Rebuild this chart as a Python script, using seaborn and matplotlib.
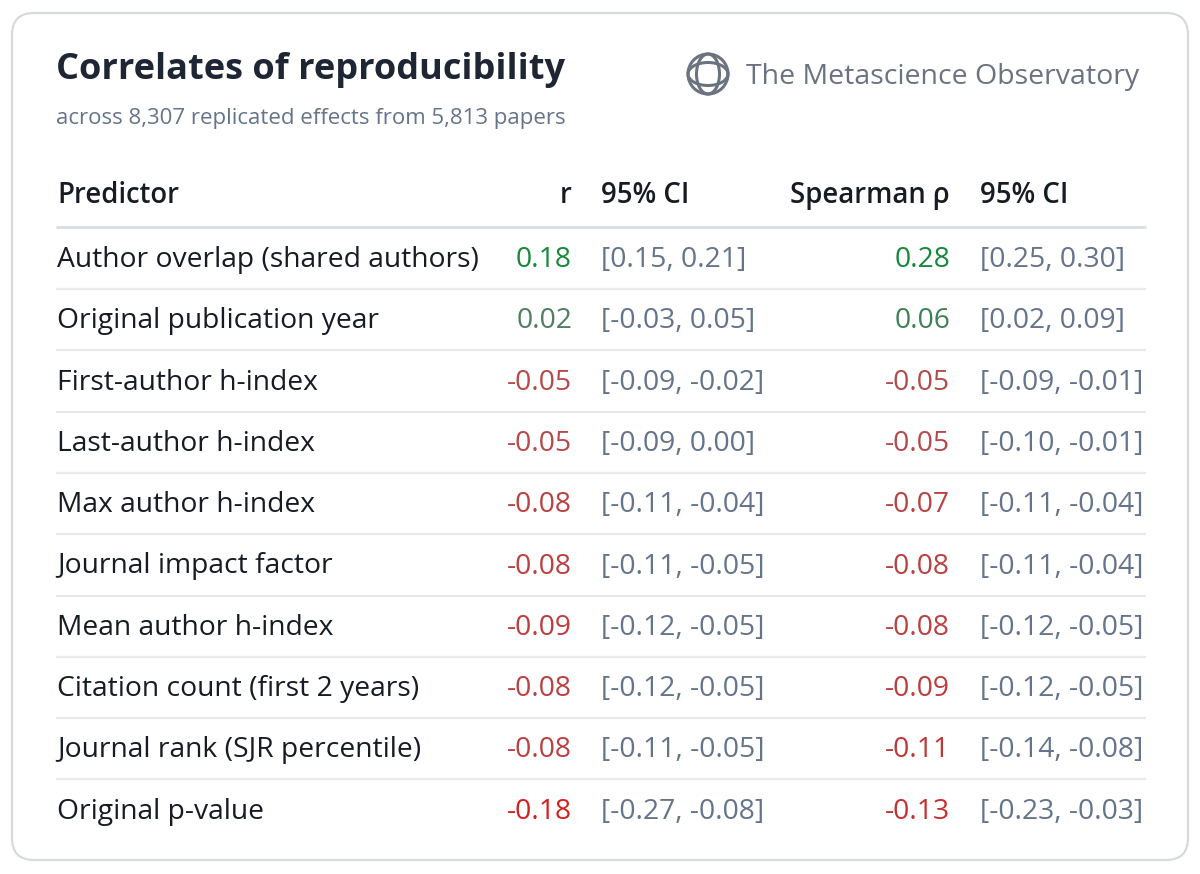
import matplotlib
matplotlib.use("Agg")
import matplotlib.pyplot as plt
from matplotlib.patches import FancyBboxPatch, Circle, Ellipse
import seaborn as sns
import numpy as np

sns.set_theme(style="white")
plt.rcParams["font.family"] = ["Open Sans", "DejaVu Sans"]

# table data
predictors = [
    "Author overlap (shared authors)",
    "Original publication year",
    "First-author h-index",
    "Last-author h-index",
    "Max author h-index",
    "Journal impact factor",
    "Mean author h-index",
    "Citation count (first 2 years)",
    "Journal rank (SJR percentile)",
    "Original p-value",
]
r_vals = [0.18, 0.02, -0.05, -0.05, -0.08, -0.08, -0.09, -0.08, -0.08, -0.18]
r_lo = [0.15, -0.03, -0.09, -0.09, -0.11, -0.11, -0.12, -0.12, -0.11, -0.27]
r_hi = [0.21, 0.05, -0.02, 0.00, -0.04, -0.05, -0.05, -0.05, -0.05, -0.08]
rho_vals = [0.28, 0.06, -0.05, -0.05, -0.07, -0.08, -0.08, -0.09, -0.11, -0.13]
rho_lo = [0.25, 0.02, -0.09, -0.10, -0.11, -0.11, -0.12, -0.12, -0.14, -0.23]
rho_hi = [0.30, 0.09, -0.01, -0.01, -0.04, -0.04, -0.05, -0.05, -0.08, -0.03]

TITLE_C = "#1e2633"
MUTED = "#64748b"
BRAND_C = "#6b7280"
TEXT_C = "#161b24"

pos_cmap = sns.blend_palette(["#5a7d68", "#16883a"], as_cmap=True)
neg_cmap = sns.blend_palette(["#a85a5a", "#d41f1f"], as_cmap=True)


def value_color(v):
    if v >= 0:
        return pos_cmap(min(v / 0.15, 1.0))
    return neg_cmap(min(-v / 0.18, 1.0))


def fmt_ci(lo, hi):
    return f"[{lo:.2f}, {hi:.2f}]"


fig = plt.figure(figsize=(12, 8.74), dpi=100)
ax = fig.add_axes([0, 0, 1, 1])
ax.set_xlim(0, 1200)
ax.set_ylim(874, 0)
ax.axis("off")

card = FancyBboxPatch((12, 13), 1176, 847, boxstyle="round,pad=0,rounding_size=22",
                      fc="white", ec="#d6d9de", lw=1.6)
ax.add_patch(card)

ax.text(56, 79, "Correlates of reproducibility", fontsize=26, fontweight="bold",
        color=TITLE_C, va="baseline")
ax.text(56, 124, "across 8,307 replicated effects from 5,813 papers", fontsize=16,
        color=MUTED, va="baseline")

# globe icon
gx, gy, gr = 708, 74, 20
ax.add_patch(Circle((gx, gy), gr, fill=False, ec=BRAND_C, lw=2.2))
ax.add_patch(Ellipse((gx, gy), gr * 1.15, gr * 2, fill=False, ec=BRAND_C, lw=2.2))
ax.add_patch(Ellipse((gx, gy), gr * 2, gr * 1.15, fill=False, ec=BRAND_C, lw=2.2))
ax.text(746, 84, "The Metascience Observatory", fontsize=20.5, color=BRAND_C, va="baseline")

x_label, x_r, x_rci, x_rho, x_rhoci = 57, 572, 601, 950, 980
header_y = 203
hdr = dict(fontsize=19.8, fontweight="semibold", color=TEXT_C, va="baseline")
ax.text(x_label, header_y, "Predictor", **hdr)
ax.text(x_r, header_y, "r", ha="right", **hdr)
ax.text(x_rci, header_y, "95% CI", **hdr)
ax.text(x_rho, header_y, "Spearman ρ", ha="right", **hdr)
ax.text(x_rhoci, header_y, "95% CI", **hdr)
ax.plot([56, 1146], [227, 227], color="#d9dde3", lw=2, solid_capstyle="butt")

row_h = 61.3
first_base = 267
fs = 20.3
for i, name in enumerate(predictors):
    yb = first_base + i * row_h
    ax.text(x_label, yb, name, fontsize=fs, color=TEXT_C, va="baseline")
    ax.text(x_r, yb, f"{r_vals[i]:.2f}", fontsize=fs, color=value_color(r_vals[i]),
            va="baseline", ha="right")
    ax.text(x_rci, yb, fmt_ci(r_lo[i], r_hi[i]), fontsize=fs, color=MUTED, va="baseline")
    ax.text(x_rho, yb, f"{rho_vals[i]:.2f}", fontsize=fs, color=value_color(rho_vals[i]),
            va="baseline", ha="right")
    ax.text(x_rhoci, yb, fmt_ci(rho_lo[i], rho_hi[i]), fontsize=fs, color=MUTED, va="baseline")
    if i < len(predictors) - 1:
        ly = 289 + i * row_h
        ax.plot([56, 1146], [ly, ly], color="#e8eaee", lw=1.6, solid_capstyle="butt")

fig.savefig("out.png", dpi=100, facecolor="white")
